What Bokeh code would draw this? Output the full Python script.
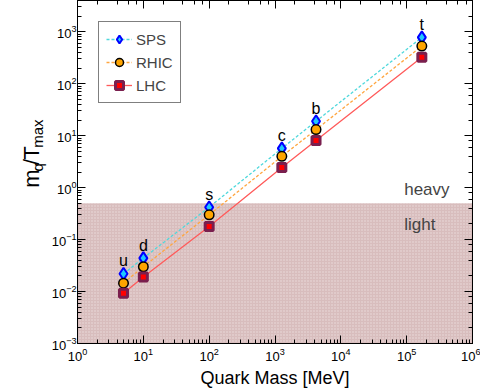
import math
from bokeh.plotting import figure
from bokeh.layouts import row
from bokeh.models import (LogAxis, BoxAnnotation, Label, Legend, LegendItem,
                          CustomJSTickFormatter, Range1d, ColumnDataSource)
from bokeh.core.properties import value
from bokeh.embed import file_html
from bokeh.resources import INLINE

# ---- data ----
quarks = ["u", "d", "s", "c", "b", "t"]
mass_mev = [5, 10, 100, 1270, 4200, 170000]
sps = [0.022, 0.044, 0.42, 5.7, 19.0, 780]
rhic = [0.0145, 0.030, 0.30, 4.0, 13.1, 530]
lhc = [0.0093, 0.019, 0.179, 2.45, 8.1, 323]
light_limit = 0.5
x_lim = (1, 1e6)
y_lim = (1e-3, 4000)

FONT = "Liberation Sans"

# helpers: reference pixel -> data (for text placement inside the frame)
def px_x(px):
    return 10 ** ((px - 73) / 66.5)

def py_y(py):
    return 10 ** ((190.7 - py) / 51.3)

LEFT_W = 48
H = 390
p = figure(width=480 - LEFT_W, height=H, x_axis_type="log", y_axis_type="log",
           x_range=Range1d(*x_lim), y_range=Range1d(*y_lim),
           output_backend="svg", toolbar_location=None,
           min_border_left=73 - LEFT_W, min_border_right=8, min_border_top=0,
           min_border_bottom=46)
p.grid.visible = False
p.outline_line_color = "black"
p.outline_line_width = 1

for ax in (p.xaxis[0], p.yaxis[0]):
    ax.major_tick_in = 8
    ax.major_tick_out = 0
    ax.minor_tick_in = 4
    ax.minor_tick_out = 0
    ax.axis_line_color = "black"
    ax.major_tick_line_color = "black"
    ax.minor_tick_line_color = "black"
    ax.major_label_text_font = FONT
    ax.major_label_text_font_size = "13px"
    ax.major_label_text_color = "black"
p.xaxis.major_label_standoff = 4
p.yaxis.major_label_standoff = 1
p.xaxis.axis_label = "Quark Mass [MeV]"
p.xaxis.axis_label_text_font = FONT
p.xaxis.axis_label_text_font_size = "18px"
p.xaxis.axis_label_text_font_style = "normal"
p.xaxis.axis_label_text_color = "black"
p.xaxis.axis_label_standoff = 4

for side in ("above", "right"):
    ax = LogAxis(formatter=CustomJSTickFormatter(code="return ''"),
                 major_tick_in=8, major_tick_out=0, minor_tick_in=4, minor_tick_out=0,
                 major_label_standoff=0, axis_line_color="black")
    p.add_layout(ax, side)

# light region
box = BoxAnnotation(top=light_limit, fill_color="#d8bdbd", fill_alpha=1.0,
                    hatch_pattern="dot", hatch_color="white", hatch_alpha=0.5,
                    hatch_scale=3, line_color=None, level="underlay")
p.add_layout(box)

src = ColumnDataSource(dict(mass=mass_mev, sps=sps, rhic=rhic, lhc=lhc, quark=quarks))

l_sps = p.line("mass", "sps", source=src, line_color="#4fd8dc", line_width=1.3, line_dash="3 2")
l_rhic = p.line("mass", "rhic", source=src, line_color="#ffa640", line_width=1.3, line_dash="3 2")
l_lhc = p.line("mass", "lhc", source=src, line_color="#ff5a5a", line_width=1.3)

m_sps = p.scatter("mass", "sps", source=src, marker="diamond", size=12,
                  fill_color="#1ec8ff", line_color="#0000ff", line_width=2)
m_rhic = p.scatter("mass", "rhic", source=src, marker="circle", size=9.5,
                   fill_color="#ffa500", line_color="black", line_width=1.5)
m_lhc = p.scatter("mass", "lhc", source=src, marker="square", size=8,
                  fill_color="#ff0000", line_color="#7a1f4e", line_width=3)

p.text("mass", "sps", text="quark", source=src, text_align="center",
       text_baseline="alphabetic", y_offset=-13, text_font=value(FONT),
       text_font_size="16px", text_color="black")

legend = Legend(items=[LegendItem(label="SPS", renderers=[l_sps, m_sps]),
                       LegendItem(label="RHIC", renderers=[l_rhic, m_rhic]),
                       LegendItem(label="LHC", renderers=[l_lhc, m_lhc])],
                location="top_left", margin=21, padding=7, spacing=3,
                glyph_width=26, glyph_height=20, label_height=20, label_standoff=4,
                label_text_font=FONT, label_text_font_size="15px",
                border_line_color="black", border_line_width=1,
                background_fill_color="white", background_fill_alpha=1)
p.add_layout(legend)

# region labels
p.add_layout(Label(x=px_x(403), y=py_y(193), text="heavy", text_font=FONT,
                   text_font_size="17px", text_baseline="alphabetic"))
p.add_layout(Label(x=px_x(403), y=py_y(227), text="light", text_font=FONT,
                   text_font_size="17px", text_baseline="alphabetic"))

# ---- y axis title m_q / T_max in a narrow side figure (pixel coordinates, y up) ----
ylab = figure(width=LEFT_W, height=H, x_range=Range1d(0, LEFT_W), y_range=Range1d(0, H),
              output_backend="svg", toolbar_location=None, min_border=0,
              x_axis_location=None, y_axis_location=None, outline_line_color=None)
ylab.grid.visible = False
pieces = [("m", "22px", 43, 213), ("q", "15px", 45.5, 194.5), ("/", "22px", 43, 187),
          ("T", "22px", 43, 181), ("max", "15px", 45.5, 167.5)]
for txt, fs, x, py in pieces:
    ylab.add_layout(Label(x=x, y=H - py, text=txt, angle=math.pi / 2,
                          text_font=FONT, text_font_size=fs, text_color="black"))

layout = row(ylab, p, spacing=0)
open("out.html", "w").write(file_html(layout, INLINE))
